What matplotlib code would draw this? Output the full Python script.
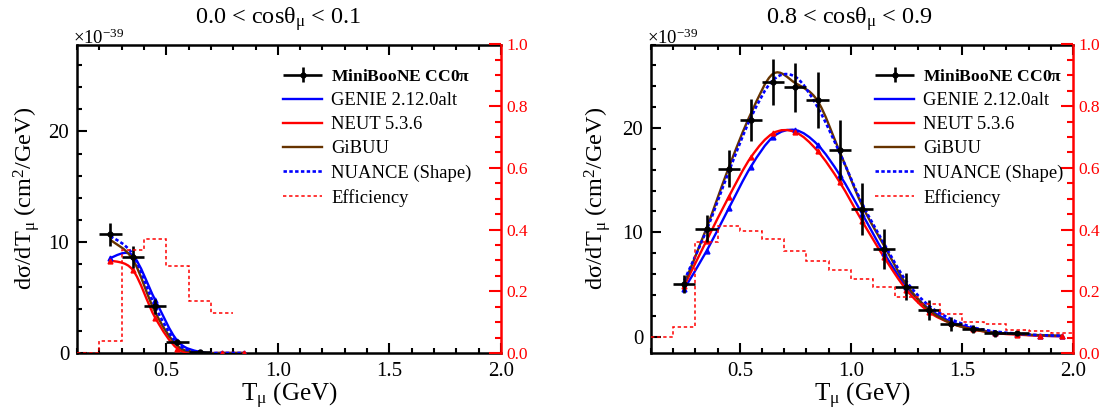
import numpy as np
import matplotlib
matplotlib.use("Agg")
import matplotlib.pyplot as plt
from matplotlib.path import Path
from matplotlib.patches import PathPatch
from matplotlib.lines import Line2D
from matplotlib.legend_handler import HandlerErrorbar
from matplotlib.ticker import MultipleLocator, FormatStrFormatter

plt.rcParams['font.family'] = ['Liberation Serif', 'DejaVu Serif']
plt.rcParams['mathtext.fontset'] = 'custom'
plt.rcParams['mathtext.rm'] = 'Liberation Serif'
plt.rcParams['mathtext.it'] = 'Liberation Serif:italic'
plt.rcParams['mathtext.bf'] = 'Liberation Serif:bold'

# ---------------- data ----------------
# Panel 1: 0.0 < cos < 0.1
p1_data_x = [0.25, 0.35, 0.45, 0.55, 0.65]
p1_data_y = [10.7, 8.65, 4.2, 0.95, 0.05]
p1_data_err = [1.05, 1.0, 0.7, 0.2, 0.03]
p1_model_x = [0.25, 0.35, 0.45, 0.55, 0.65, 0.75, 0.85]
p1_genie = [8.6, 8.8, 4.8, 1.1, 0.1, 0.0, 0.0]
p1_neut = [8.35, 7.5, 3.2, 0.4, 0.02, 0.0, 0.0]
p1_gibuu = [10.2, 8.45, 3.7, 0.65, 0.02, 0.0, 0.0]
p1_nuance = [10.55, 8.9, 4.2, 0.85, 0.05, 0.0, 0.0]
p1_eff_edges = [0.1, 0.2, 0.3, 0.4, 0.5, 0.6, 0.7, 0.8]
p1_eff = [0.0, 0.038, 0.335, 0.37, 0.281, 0.167, 0.129]

# Panel 2: 0.8 < cos < 0.9
p2_data_x = [0.25, 0.35, 0.45, 0.55, 0.65, 0.75, 0.85, 0.95, 1.05, 1.15,
             1.25, 1.35, 1.45, 1.55, 1.65, 1.75]
p2_data_y = [5.05, 10.35, 16.1, 20.8, 24.45, 23.9, 22.7, 17.9, 12.2, 8.4,
             4.8, 2.56, 1.22, 0.74, 0.32, 0.39]
p2_data_err = [0.9, 1.3, 1.75, 2.0, 2.2, 2.35, 2.7, 2.9, 2.5, 1.9,
               1.3, 1.0, 0.7, 0.4, 0.3, 0.2]
p2_model_x = [0.25, 0.35, 0.45, 0.55, 0.65, 0.75, 0.85, 0.95, 1.05, 1.15,
              1.25, 1.35, 1.45, 1.55, 1.65, 1.75, 1.85, 1.95]
p2_genie = [4.6, 8.2, 12.3, 16.3, 19.15, 19.8, 18.4, 15.5, 11.8, 8.0,
            4.8, 2.7, 1.45, 0.8, 0.4, 0.25, 0.1, 0.05]
p2_neut = [4.9, 9.2, 13.4, 17.2, 19.5, 19.6, 17.8, 14.8, 11.1, 7.6,
           4.5, 2.4, 1.3, 0.7, 0.35, 0.2, 0.1, 0.05]
p2_gibuu = [5.1, 10.4, 16.2, 21.4, 25.2, 24.3, 22.6, 17.7, 12.6, 8.7,
            5.0, 2.6, 1.3, 0.7, 0.4, 0.25, 0.15, 0.1]
p2_nuance = [5.4, 10.2, 15.8, 21.0, 24.6, 24.9, 22.0, 17.6, 12.8, 8.9,
             5.3, 3.0, 1.7, 0.9, 0.5, 0.3, 0.15, 0.1]
p2_eff_edges = [0.1, 0.2, 0.3, 0.4, 0.5, 0.6, 0.7, 0.8, 0.9, 1.0, 1.1,
                1.2, 1.3, 1.4, 1.5, 1.6, 1.7, 1.8, 1.9, 2.0]
p2_eff = [0.053, 0.083, 0.361, 0.411, 0.397, 0.369, 0.332, 0.298, 0.268,
          0.239, 0.215, 0.18, 0.158, 0.125, 0.10, 0.095, 0.075, 0.07, 0.065]

titles = [r'0.0 < cos$\mathregular{\theta_{\mu}}$ < 0.1',
          r'0.8 < cos$\mathregular{\theta_{\mu}}$ < 0.9']
legend_labels = [r'MiniBooNE CC0$\mathbf{\pi}$', 'GENIE 2.12.0alt', 'NEUT 5.3.6',
                 'GiBUU', 'NUANCE (Shape)', 'Efficiency']

C_GENIE = '#0000ff'
C_NEUT = '#ff0000'
C_GIBUU = '#663300'
C_NUANCE = '#0000ff'
C_EFF = '#ff0000'

W, H = 1104, 413
fig = plt.figure(figsize=(W / 100, H / 100), dpi=100)


def smooth_path(x, y):
    x = np.asarray(x, float)
    y = np.asarray(y, float)
    n = len(x)
    verts = [(x[0], y[0])]
    codes = [Path.MOVETO]
    for i in range(n - 1):
        pv = i - 1 if i > 0 else i
        nx = i + 2 if i + 2 < n else i + 1
        c1 = (x[i] + (x[i + 1] - x[pv]) / 6.0, y[i] + (y[i + 1] - y[pv]) / 6.0)
        c2 = (x[i + 1] - (x[nx] - x[i]) / 6.0, y[i + 1] - (y[nx] - y[i]) / 6.0)
        verts += [c1, c2, (x[i + 1], y[i + 1])]
        codes += [Path.CURVE4] * 3
    return Path(verts, codes)


def draw_curve(ax, x, y, color, ls='-', lw=1.7):
    patch = PathPatch(smooth_path(x, y), fill=False, edgecolor=color,
                      lw=lw, linestyle=ls, zorder=3)
    ax.add_patch(patch)


panels = [
    dict(left=77, dx=p1_data_x, dy=p1_data_y, de=p1_data_err, mx=p1_model_x,
         genie=p1_genie, neut=p1_neut, gibuu=p1_gibuu, nuance=p1_nuance,
         ee=p1_eff_edges, ev=p1_eff, ylim=(0, 27.85), title_x=278, ylab_x=-0.118),
    dict(left=651, dx=p2_data_x, dy=p2_data_y, de=p2_data_err, mx=p2_model_x,
         genie=p2_genie, neut=p2_neut, gibuu=p2_gibuu, nuance=p2_nuance,
         ee=p2_eff_edges, ev=p2_eff, ylim=(-1.56, 28.0), title_x=850, ylab_x=-0.126),
]

top_px, bot_px = 44.5, 353.0
for k, p in enumerate(panels):
    width_px = 424 if k == 0 else 422
    ax = fig.add_axes([p['left'] / W, 1 - bot_px / H, width_px / W, (bot_px - top_px) / H])
    ax.set_xlim(0.1, 2.0)
    ax.set_ylim(*p['ylim'])
    ax2 = ax.twinx()
    ax2.set_ylim(0, 1)

    # models
    draw_curve(ax, p['mx'], p['genie'], C_GENIE)
    draw_curve(ax, p['mx'], p['neut'], C_NEUT)
    draw_curve(ax, p['mx'], p['gibuu'], C_GIBUU)
    draw_curve(ax, p['mx'], p['nuance'], C_NUANCE, ls=(0, (1.3, 0.9)), lw=1.9)
    ax.plot(p['mx'], p['genie'], linestyle='none', marker='^', ms=3.5,
            color=C_GENIE, zorder=3)
    ax.plot(p['mx'], p['neut'], linestyle='none', marker='^', ms=3.5,
            color=C_NEUT, zorder=3)

    # data
    eb = ax.errorbar(p['dx'], p['dy'], xerr=0.05, yerr=p['de'], fmt='o', ms=3.5,
                     color='black', ecolor='black', elinewidth=1.9, capsize=0,
                     zorder=5)

    # efficiency
    ax2.stairs(p['ev'], p['ee'], baseline=None, color=C_EFF, lw=1.1,
               linestyle=(0, (2.2, 1.8)), zorder=2)

    # axes style
    for sp in ['left', 'top', 'bottom']:
        ax.spines[sp].set_linewidth(1.8)
        ax2.spines[sp].set_visible(False)
    ax.spines['right'].set_visible(False)
    ax2.spines['right'].set_color(C_EFF)
    ax2.spines['right'].set_linewidth(1.8)

    ax.xaxis.set_major_locator(MultipleLocator(0.5))
    ax.xaxis.set_minor_locator(MultipleLocator(0.1))
    ax.xaxis.set_major_formatter(FormatStrFormatter('%.1f'))
    ax.yaxis.set_major_locator(MultipleLocator(10))
    ax.yaxis.set_minor_locator(MultipleLocator(2))
    ax.tick_params(which='both', direction='in', top=True, right=False,
                   width=1.5, labelsize=15, colors='black')
    ax.tick_params(which='major', length=7.5)
    ax.tick_params(which='minor', length=3.8)
    ax.tick_params(axis='x', which='both', pad=6.5)
    ax.tick_params(axis='y', which='both', pad=5.5)

    ax2.yaxis.set_major_locator(MultipleLocator(0.2))
    ax2.yaxis.set_minor_locator(MultipleLocator(0.05))
    ax2.yaxis.set_major_formatter(FormatStrFormatter('%.1f'))
    ax2.tick_params(which='both', direction='in', color=C_EFF, labelcolor=C_EFF,
                    width=1.5, labelsize=12.5, pad=4)
    ax2.tick_params(which='major', length=8.5)
    ax2.tick_params(which='minor', length=4.3)

    ax.set_xlabel(r'$\mathregular{T_{\mu}}$ (GeV)', fontsize=18, va='center')
    ax.xaxis.set_label_coords(0.5, -(396 - bot_px) / (bot_px - top_px))
    ax.set_ylabel(r'd$\mathregular{\sigma}$/d$\mathregular{T_{\mu}}$ (cm$\mathregular{^{2}}$/GeV)',
                  fontsize=17.5, va='center', ha='center')
    ax.yaxis.set_label_coords(p['ylab_x'], 0.5)

    fig.text(p['title_x'] / W, 1 - 19 / H, titles[k], fontsize=17.5,
             ha='center', va='center')
    fig.text((p['left'] - 4) / W, 1 - 44 / H, r'$\mathregular{\times10^{-39}}$',
             fontsize=13.5, ha='left', va='baseline')

    # legend
    handles = [eb,
               Line2D([], [], color=C_GENIE, lw=1.7),
               Line2D([], [], color=C_NEUT, lw=1.7),
               Line2D([], [], color=C_GIBUU, lw=1.7),
               Line2D([], [], color=C_NUANCE, lw=1.9, linestyle=(0, (1.3, 0.9))),
               Line2D([], [], color=C_EFF, lw=1.1, linestyle=(0, (2.2, 1.8)))]
    leg_left_px = 283 if k == 0 else 875
    bx = (leg_left_px - p['left']) / width_px
    leg = ax2.legend(handles, legend_labels, loc='upper left',
                     bbox_to_anchor=(bx, 1 - (68 - top_px) / (bot_px - top_px)),
                     frameon=False, fontsize=13.4, handlelength=2.1,
                     handletextpad=0.48, labelspacing=0.38, borderpad=0,
                     borderaxespad=0,
                     handler_map={type(eb): HandlerErrorbar(xerr_size=1.05,
                                                            yerr_size=0.4)})
    leg.get_texts()[0].set_fontweight('bold')
    leg.get_texts()[0].set_fontsize(12.6)

fig.savefig('out.png', dpi=100)
